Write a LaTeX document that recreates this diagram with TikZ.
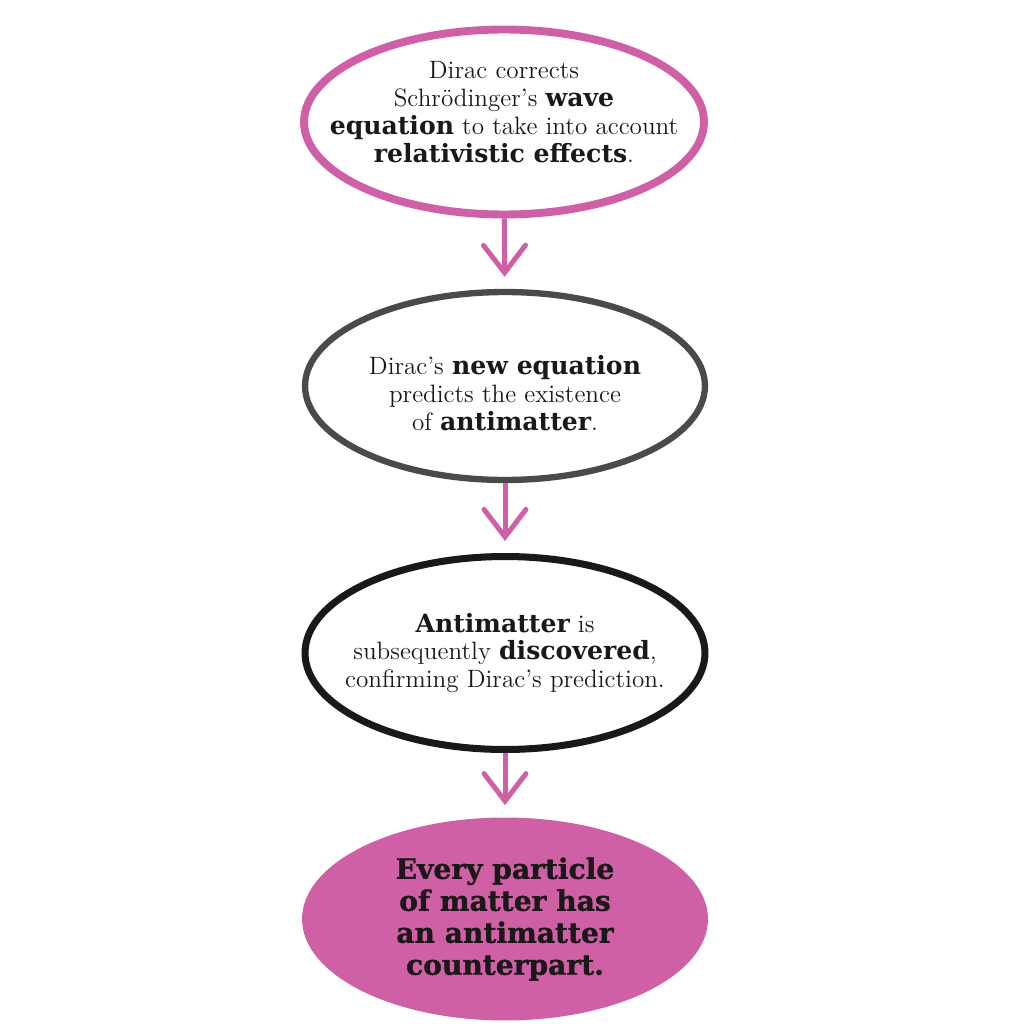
\documentclass[tikz,border=0pt]{standalone}
\usepackage{fontspec}
\newfontfamily\slabfont{DejaVu Serif}
\newfontfamily\heavyslab{DejaVu Serif Bold}[FakeBold=1.2]
\usetikzlibrary{arrows.meta,shapes.geometric,positioning}
\definecolor{OrchidPink}{RGB}{208,96,166}
\definecolor{InkGray}{RGB}{74,74,74}
\definecolor{InkBlack}{RGB}{26,24,24}
\newcommand{\hot}[1]{{\slabfont\bfseries #1}}

\begin{document}
\begin{tikzpicture}[x=0.02cm,y=-0.02cm,
    bubble/.style={ellipse,inner sep=0pt,minimum width=8cm,minimum height=3.7cm},
    says/.style={align=center,text=InkBlack,font=\fontsize{14.3}{15.9}\selectfont},
    flow/.style={OrchidPink,line width=1mm,-{Straight Barb[length=5.5mm,width=8.4mm,line cap=round]},shorten >=2.4mm}]
  \useasboundingbox (0,0) rectangle (1024,1024);
  % the four bubbles
  \node[bubble,draw=OrchidPink,line width=4.5pt] (dirac) at (504,122) {};
  \node[bubble,draw=InkGray,line width=3.6pt,minimum height=3.76cm] (predict) at (505,386) {};
  \node[bubble,draw=InkBlack,line width=4pt,minimum height=3.86cm] (found) at (505,653) {};
  \node[bubble,fill=OrchidPink,minimum width=8.12cm,minimum height=4.06cm] (every) at (505,919) {};
  % texts
  \node[says,yshift=2mm] (diractext) at (dirac) {Dirac corrects\\Schrödinger’s \hot{wave}\\\hot{equation} to take into account\\\hot{relativistic effects}.};
  \node[says,yshift=-1.4mm] (predicttext) at (predict) {Dirac’s \hot{new equation}\\predicts the existence\\of \hot{antimatter}.};
  \node[says] (foundtext) at (found) {\hot{Antimatter} is\\subsequently \hot{discovered},\\confirming Dirac’s prediction.};
  \node[says,font=\fontsize{16}{18.2}\selectfont\heavyslab] (everytext) at (every) {Every particle\\of matter has\\an antimatter\\counterpart.};
  % arrows
  \draw[flow] (dirac) -- (predict);
  \draw[flow] (predict) -- (found);
  \draw[flow] (found) -- (every);
\end{tikzpicture}
\end{document}
